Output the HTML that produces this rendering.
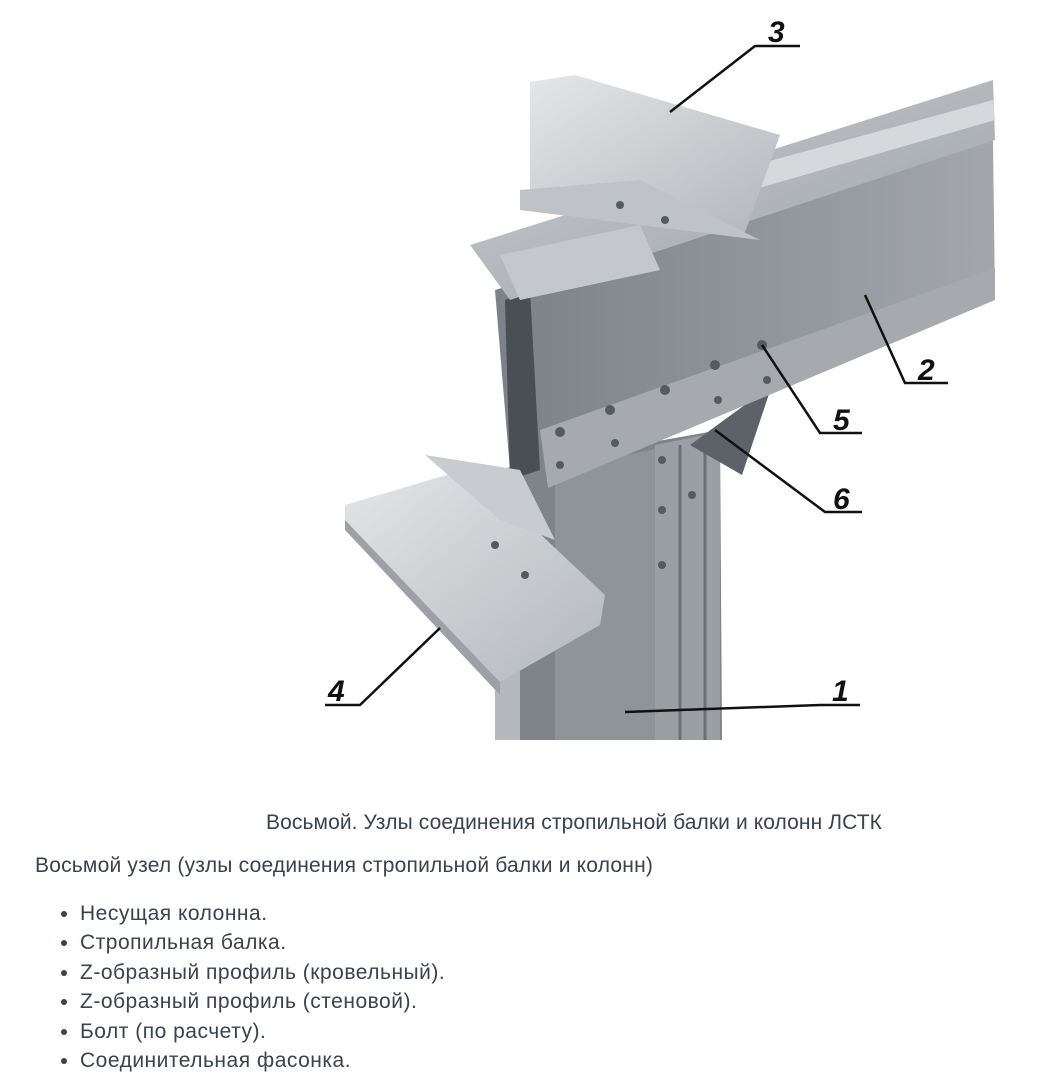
<!DOCTYPE html>
<html><head><meta charset="utf-8"><style>
html,body{margin:0;padding:0;background:#fff;width:1052px;height:1080px;overflow:hidden}
body{position:relative;font-family:"Liberation Sans",sans-serif;color:#3a4150}
svg{position:absolute;left:0;top:0}
.cap{position:absolute;top:811px;left:266px;font-size:21px;letter-spacing:0.1px;white-space:nowrap}
.h{position:absolute;top:854px;left:35px;font-size:21px;letter-spacing:0.2px;white-space:nowrap}
ul{position:absolute;top:899px;left:0;margin:0;padding:0 0 0 80px;font-size:21px;letter-spacing:0.5px;line-height:29.4px}
li{white-space:nowrap}
</style></head><body>
<svg width="1052" height="800" viewBox="0 0 1052 800">
<defs>
<linearGradient id="g1" x1="0" y1="0" x2="1" y2="1"><stop offset="0" stop-color="#c9ccd0"/><stop offset="1" stop-color="#9da2a7"/></linearGradient>
<linearGradient id="g2" x1="0" y1="0" x2="1" y2="0"><stop offset="0" stop-color="#7c8187"/><stop offset="1" stop-color="#a3a7ac"/></linearGradient>
<linearGradient id="g3" x1="0" y1="0" x2="1" y2="1"><stop offset="0" stop-color="#e4e6e8"/><stop offset="1" stop-color="#b3b7bb"/></linearGradient>
</defs>
<polygon points="495,470 720,430 722,740 495,740" fill="#7f848a"/>
<polygon points="555,470 660,448 660,740 555,740" fill="#8f9499"/>
<polygon points="655,445 720,432 720,740 655,740" fill="#9a9fa4"/>
<line x1="680" y1="445" x2="680" y2="740" stroke="#6b7076" stroke-width="3"/>
<line x1="705" y1="440" x2="705" y2="740" stroke="#6b7076" stroke-width="3"/>
<polygon points="495,660 520,655 520,740 495,740" fill="#b5b9bd"/>
<polygon points="690,445 772,385 742,475" fill="#5d6268"/>
<polygon points="495,290 993,140 995,300 540,470 510,470" fill="url(#g2)"/>
<polygon points="505,300 530,290 540,470 510,480" fill="#4a4f55"/>
<polygon points="540,430 995,268 995,300 548,488" fill="#a6aaaf"/>
<polygon points="470,245 993,80 995,140 510,300" fill="url(#g1)"/>
<polygon points="700,180 993,100 995,120 700,205" fill="#d6d9dc"/>
<polygon points="530,82 575,75 780,135 745,232 560,205 530,190" fill="url(#g3)"/>
<polygon points="520,190 640,180 760,240 520,210" fill="#bfc2c6"/>
<polygon points="500,255 640,225 660,270 520,300" fill="#c4c7cb"/>
<polygon points="345,505 470,468 605,595 600,625 500,682 345,520" fill="url(#g3)"/>
<polygon points="345,520 500,682 500,695 345,530" fill="#9da1a6"/>
<polygon points="425,455 520,470 555,540 500,520" fill="#c8cbcf"/>
<g fill="#555a60">
<circle cx="560" cy="432" r="5"/><circle cx="610" cy="410" r="5"/><circle cx="665" cy="390" r="5"/><circle cx="715" cy="365" r="5"/><circle cx="762" cy="345" r="5"/>
<circle cx="560" cy="465" r="4"/><circle cx="615" cy="443" r="4"/><circle cx="718" cy="400" r="4"/><circle cx="767" cy="380" r="4"/>
<circle cx="662" cy="460" r="4"/><circle cx="662" cy="510" r="4"/><circle cx="662" cy="565" r="4"/><circle cx="692" cy="495" r="4"/>
<circle cx="495" cy="545" r="4"/><circle cx="525" cy="575" r="4"/><circle cx="620" cy="205" r="4"/><circle cx="665" cy="220" r="4"/>
</g>
<g stroke="#111" stroke-width="2.5" fill="none">
<polyline points="670,112 755,46 800,46"/>
<polyline points="865,295 905,383 948,383"/>
<polyline points="762,345 820,433 862,433"/>
<polyline points="715,430 825,512 862,512"/>
<polyline points="625,712 820,705 860,705"/>
<polyline points="440,628 360,705 325,705"/>
</g>
<g font-family="Liberation Sans" font-weight="bold" font-style="italic" font-size="30" fill="#111">
<text x="768" y="42">3</text><text x="918" y="380">2</text><text x="833" y="430">5</text>
<text x="833" y="509">6</text><text x="832" y="701">1</text><text x="328" y="701">4</text>
</g>
</svg>
<div class="cap">Восьмой. Узлы соединения стропильной балки и колонн ЛСТК</div>
<div class="h">Восьмой узел (узлы соединения стропильной балки и колонн)</div>
<ul>
<li>Несущая колонна.</li>
<li>Стропильная балка.</li>
<li>Z-образный профиль (кровельный).</li>
<li>Z-образный профиль (стеновой).</li>
<li>Болт (по расчету).</li>
<li>Соединительная фасонка.</li>
</ul>
</body></html>
